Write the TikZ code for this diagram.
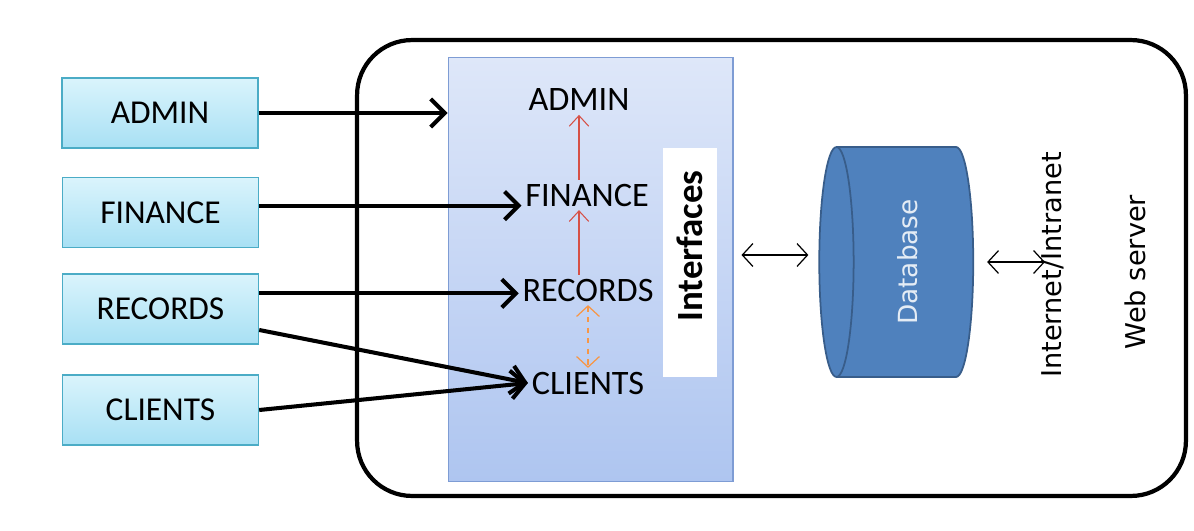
\documentclass[tikz,border=0pt]{standalone}
\usepackage{fontspec}
\setmainfont{Carlito}
\newfontfamily\widesans{DejaVu Sans}
\usepackage{graphicx}
\usetikzlibrary{arrows.meta, shapes.geometric}
\definecolor{roleedge}{RGB}{75,172,198}
\definecolor{roletop}{RGB}{218,244,252}
\definecolor{rolebot}{RGB}{168,224,244}
\definecolor{paneltop}{RGB}{222,231,249}
\definecolor{panelbot}{RGB}{174,197,240}
\definecolor{paneledge}{RGB}{126,156,212}
\definecolor{dbfill}{RGB}{79,129,189}
\definecolor{dbedge}{RGB}{56,93,138}
\definecolor{linkred}{RGB}{214,80,70}
\definecolor{linkorange}{RGB}{247,150,70}

\begin{document}
\begin{tikzpicture}[x=0.02cm, y=-0.02cm,
  role/.style={draw=roleedge, line width=0.8pt, top color=roletop, bottom color=rolebot,
               minimum width=3.92cm, minimum height=1.4cm,
               font=\fontsize{19}{22}\selectfont},
  iface/.style={inner sep=2pt, font=\fontsize{19.5}{22}\selectfont},
  push/.style={-{Straight Barb[length=8pt,width=16pt]}, line width=2.3pt},
  chain/.style={-{Straight Barb[length=6pt,width=11pt]}, linkred, line width=0.6pt},
  duplex/.style={{Straight Barb[length=6pt,width=13pt]}-{Straight Barb[length=6pt,width=13pt]},
                 line width=0.7pt},
  vlabel/.style={rotate=90, font=\widesans\fontsize{15.5}{18}\selectfont}
]
  \useasboundingbox (0,0) rectangle (1194,531);

  % web server frame
  \node[draw, line width=2.4pt, rounded corners=1.1cm,
        minimum width=16.58cm, minimum height=9.12cm] (srv) at (771.5,268) {};

  % interfaces panel
  \node[draw=paneledge, line width=0.6pt, top color=paneltop, bottom color=panelbot,
        minimum width=5.7cm, minimum height=8.5cm] (panel) at (590.5,269.5) {};
  \node[fill=white, minimum width=1.08cm, minimum height=4.58cm] (ifbox) at (690,262.5) {};
  \node[rotate=90, font=\bfseries\fontsize{21}{24}\selectfont] (iflbl) at (690,246) {Interfaces};

  \node[iface] (adm) at (579,100) {ADMIN};
  \node[iface] (fin) at (587,195) {FINANCE};
  \node[iface] (rec) at (588,290) {RECORDS};
  \node[iface] (cli) at (588,383) {CLIENTS};

  % user roles
  \node[role] (admbox) at (160,113)   {ADMIN};
  \node[role] (finbox) at (160.5,212.5) {FINANCE};
  \node[role] (recbox) at (160.5,309) {RECORDS};
  \node[role] (clibox) at (160.5,410) {CLIENTS};

  \node[cylinder, shape border rotate=180, aspect=0.25, draw=dbedge, line width=1pt,
        fill=dbfill, minimum width=4.6cm, minimum height=3.08cm,
        text=white!85!dbfill, font=\widesans\fontsize{15}{18}\selectfont]
        (db) at (908,262) {\rotatebox{90}{Database}};

  \node[vlabel] (net) at (1053,265) {Internet/Intranet};
  \node[vlabel] (web) at (1135,272) {Web server};

  \draw[push] (admbox.east) -- (admbox.east -| panel.west);
  \draw[push] (finbox.4) -- (finbox.4 -| fin.west);
  \draw[push] (recbox.9) -- (recbox.9 -| rec.west);
  \draw[push] (recbox.-12) -- (cli.west);
  \draw[push] (clibox.east) -- (cli.west);

  \draw[chain] (fin.north -| adm.south) -- (adm.south);
  \draw[chain] (rec.north -| adm.south) -- (fin.south -| adm.south);
  \draw[duplex, dashed, linkorange] (rec.south) -- (cli.north);

  \draw[duplex, shorten <=0.16cm, shorten >=0.2cm]
    ([yshift=0.14cm]db.west -| panel.east) -- ([yshift=0.14cm]db.west);
  \draw[duplex, shorten <=0.16cm, shorten >=0.26cm] (net.center |- db.east) -- (db.east);
\end{tikzpicture}
\end{document}
